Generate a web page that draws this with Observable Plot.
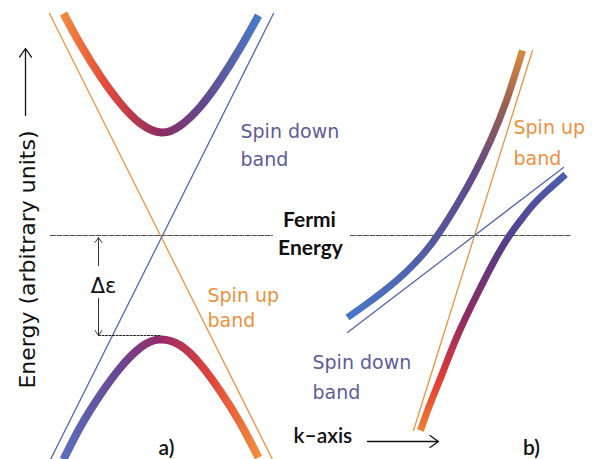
<!DOCTYPE html>
<html><head><meta charset="utf-8">
<script src="https://cdn.jsdelivr.net/npm/d3@7"></script>
<script src="https://cdn.jsdelivr.net/npm/@observablehq/plot@0.6"></script>
<style>body{margin:0;background:#fff}</style>
</head><body><div id="chart"></div>
<script>
// Coordinates: k (momentum, arbitrary units) and E (energy, Fermi level = 0)

// ---- panel a) ----
const fermiA = [{k: 50, E: 0}, {k: 272, E: 0}];
const spinUpLineA = [{k: 49, E: 222}, {k: 272, E: -224}];
const spinDownLineA = [{k: 273, E: 222}, {k: 50, E: -224}];
const upperBandA = [
  {k: 63, E: 222}, {k: 80, E: 191}, {k: 100, E: 159}, {k: 120, E: 132}, {k: 140, E: 112},
  {k: 161, E: 103}, {k: 180, E: 110}, {k: 200, E: 129}, {k: 220, E: 156}, {k: 240, E: 188}, {k: 258, E: 220}
];
const lowerBandA = [
  {k: 63, E: -224}, {k: 80, E: -191}, {k: 100, E: -159}, {k: 120, E: -132}, {k: 140, E: -112},
  {k: 159, E: -104}, {k: 180, E: -110}, {k: 200, E: -129}, {k: 220, E: -156}, {k: 240, E: -188}, {k: 258, E: -222}
];
const gapLevel = [{k: 98, E: -100}, {k: 160, E: -100}];
const gapArrows = [
  {k1: 98, E1: -30, k2: 98, E2: -2},
  {k1: 98, E1: -63, k2: 98, E2: -100}
];

// ---- panel b) ----
const fermiB = [{k: 350, E: 0}, {k: 570, E: 0}];
const spinUpLineB = [{k: 532, E: 185}, {k: 413, E: -195}];
const spinDownLineB = [{k: 347, E: -97}, {k: 563, E: 68}];
const band1B = [
  {k: 347, E: -82}, {k: 364, E: -70}, {k: 384, E: -55}, {k: 405, E: -37}, {k: 424, E: -17},
  {k: 439, E: 3}, {k: 456, E: 30}, {k: 473, E: 60}, {k: 490, E: 95}, {k: 506, E: 135}, {k: 522, E: 185}
];
const band2B = [
  {k: 565, E: 61}, {k: 547, E: 45}, {k: 532, E: 30}, {k: 520, E: 15}, {k: 509, E: 0},
  {k: 494, E: -25}, {k: 476, E: -60}, {k: 457, E: -100}, {k: 441, E: -140}, {k: 429, E: -170}, {k: 420, E: -195}
];

// ---- axes arrows ----
const axisArrows = [
  {k1: 25, E1: 120, k2: 25, E2: 187},
  {k1: 367, E1: -206, k2: 438, E2: -206}
];

// ---- labels ----
const spinDownLabels = [
  {k: 240, E: 104, t: "Spin down"}, {k: 240, E: 76, t: "band"},
  {k: 312, E: -127, t: "Spin down"}, {k: 312, E: -157, t: "band"}
];
const spinUpLabels = [
  {k: 207, E: -60, t: "Spin up"}, {k: 207, E: -85, t: "band"},
  {k: 513, E: 108, t: "Spin up"}, {k: 513, E: 77, t: "band"}
];
const fermiLabels = [{k: 309, E: 15, t: "Fermi"}, {k: 310, E: -13, t: "Energy"}];
const panelLabels = [{k: 166, E: -213, t: "a)"}, {k: 531, E: -213, t: "b)"}];
const kAxisLabel = [{k: 293, E: -201, t: "k\u2013axis"}];
const yAxisLabel = [{k: 27, E: -24, t: "Energy (arbitrary units)"}];
const gapLabel = [{k: 103, E: -51, t: "\u0394\u03b5"}];

const orange = "#ec9140", blue = "#5366ad", labelBlue = "#5e5c98", fermiColor = "#5a4b3f";
const sans = "DejaVu Sans";
const band = {x: "k", y: "E", curve: "natural", strokeLinecap: "butt", strokeLinejoin: "round"};

const svg = Plot.plot({
  width: 595, height: 459, margin: 0,
  x: {domain: [0, 595], axis: null},
  y: {domain: [-224, 235], axis: null},
  marks: [
    Plot.line(fermiA, {x: "k", y: "E", stroke: fermiColor, strokeWidth: 1.1, strokeDasharray: "5,1.5"}),
    Plot.line(fermiB, {x: "k", y: "E", stroke: fermiColor, strokeWidth: 1.1, strokeDasharray: "5,1.5"}),
    Plot.line(spinUpLineA, {x: "k", y: "E", stroke: orange, strokeWidth: 1.3}),
    Plot.line(spinDownLineA, {x: "k", y: "E", stroke: blue, strokeWidth: 1.3}),
    Plot.line(spinUpLineB, {x: "k", y: "E", stroke: orange, strokeWidth: 1.3}),
    Plot.line(spinDownLineB, {x: "k", y: "E", stroke: blue, strokeWidth: 1.3}),
    Plot.line(upperBandA, {...band, stroke: "url(#gAUp)", strokeWidth: 8}),
    Plot.line(lowerBandA, {...band, stroke: "url(#gALow)", strokeWidth: 8}),
    Plot.line(band1B, {...band, stroke: "url(#gB1)", strokeWidth: 7}),
    Plot.line(band2B, {...band, stroke: "url(#gB2)", strokeWidth: 7}),
    Plot.line(gapLevel, {x: "k", y: "E", stroke: "#222", strokeWidth: 1, strokeDasharray: "2,1.5"}),
    Plot.arrow(gapArrows, {x1: "k1", y1: "E1", x2: "k2", y2: "E2", stroke: "#333", strokeWidth: 1, headLength: 9, headAngle: 70}),
    Plot.arrow(axisArrows, {x1: "k1", y1: "E1", x2: "k2", y2: "E2", stroke: "#111", strokeWidth: 1.3, headLength: 12, headAngle: 70}),
    Plot.text(spinDownLabels, {x: "k", y: "E", text: "t", textAnchor: "start", fill: labelBlue, fontSize: 19, fontFamily: sans}),
    Plot.text(spinUpLabels, {x: "k", y: "E", text: "t", textAnchor: "start", fill: orange, fontSize: 19, fontFamily: sans}),
    Plot.text(fermiLabels, {x: "k", y: "E", text: "t", fill: "#111", fontSize: 21, fontWeight: "bold", fontFamily: "Lato"}),
    Plot.text(panelLabels, {x: "k", y: "E", text: "t", fill: "#111", fontSize: 21, fontWeight: 600, fontFamily: "Lato"}),
    Plot.text(kAxisLabel, {x: "k", y: "E", text: "t", textAnchor: "start", fill: "#111", fontSize: 21, fontWeight: 600, fontFamily: "Lato"}),
    Plot.text(yAxisLabel, {x: "k", y: "E", text: "t", rotate: -90, fill: "#111", fontSize: 22, fontFamily: sans}),
    Plot.text(gapLabel, {x: "k", y: "E", text: "t", fill: "#111", fontSize: 21, fontFamily: sans})
  ]
});

const defs = d3.select(svg).insert("defs", ":first-child");
function grad(id, x1, y1, x2, y2, stops) {
  const g = defs.append("linearGradient").attr("id", id)
    .attr("x1", x1).attr("y1", y1).attr("x2", x2).attr("y2", y2);
  stops.forEach(([o, c]) => g.append("stop").attr("offset", o).attr("stop-color", c));
}
grad("gAUp", 0, 0, 1, 0, [[0, "#f3883e"], [0.22, "#e24a3a"], [0.5, "#8c2c62"], [0.72, "#63498f"], [1, "#4a7ac6"]]);
grad("gALow", 0, 0, 1, 0, [[0, "#5a6fbc"], [0.28, "#6a4790"], [0.5, "#962b68"], [0.75, "#e0433c"], [1, "#f38c3c"]]);
grad("gB1", 0, 1, 0, 0, [[0, "#4a76c6"], [0.3, "#54589e"], [0.55, "#634a86"], [0.8, "#9a6150"], [1, "#d88a3e"]]);
grad("gB2", 0, 0, 0, 1, [[0, "#4a5eae"], [0.3, "#5a3c84"], [0.55, "#8c2c62"], [0.8, "#e03c38"], [1, "#f07e32"]]);

document.getElementById("chart").append(svg);
</script>
</body></html>
